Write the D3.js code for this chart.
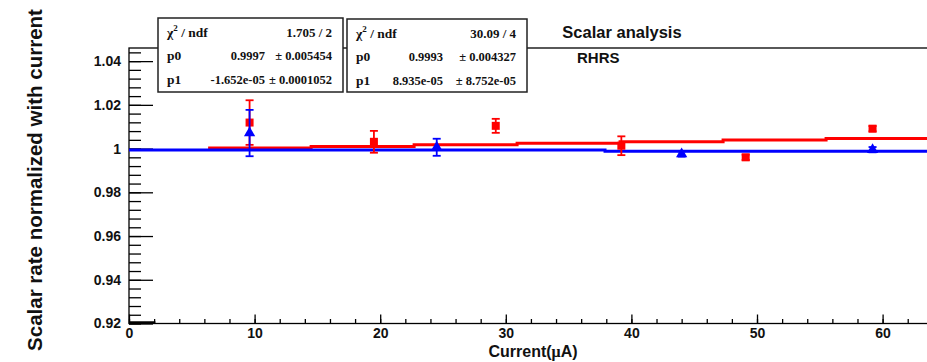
<!DOCTYPE html>
<html>
<head>
<meta charset="utf-8">
<script src="https://cdn.jsdelivr.net/npm/d3@7"></script>
<style>
  body { margin: 0; background: #fff; }
  svg { display: block; }
</style>
</head>
<body>
<div id="chart"></div>
<script>
// 測定点 (赤: 四角)
const red_x   = [9.6, 19.5, 29.2, 39.2, 49.1, 59.2];
const red_y   = [1.0119, 1.0031, 1.0104, 1.0013, 0.9960, 1.0091];
const red_err = [0.0102, 0.0050, 0.0032, 0.0043, 0.0012, 0.0012];
// 測定点 (青: 三角)
const blue_x   = [9.6, 24.5, 44.0, 59.2];
const blue_y   = [1.0071, 1.0006, 0.9975, 0.9995];
const blue_err = [0.0106, 0.0039, 0.0012, 0.0012];
// フィット結果 (p0 + p1*x)
const red_fit  = {p0: 0.9993, p1: 8.935e-05, xmin: 6.3, xmax: 63.7, nbin: 7};
const blue_fit = {p0: 0.9997, p1: -1.652e-05, xmin: 0, xmax: 75.8, nbin: 2};
// 統計ボックスの文字
const stat_red  = [["χ² / ndf", "", "1.705 / 2"], ["p0", "0.9997", "0.005454"], ["p1", "-1.652e-05", "0.0001052"]];
const stat_blue = [["χ² / ndf", "", "30.09 / 4"], ["p0", "0.9993", "0.004327"], ["p1", "8.935e-05", "8.752e-05"]];
// 軸の目盛
const x_major = [0, 10, 20, 30, 40, 50, 60];
const y_major = [0.92, 0.94, 0.96, 0.98, 1, 1.02, 1.04];

const W = 927, H = 362;
const margin = {left: 129, top: 48, bottom: 38.5};
const x_dom = [0, 65], y_dom = [0.92, 1.046];
const px_per_unit = 12.56;

const svg = d3.select("#chart").append("svg")
    .attr("width", W).attr("height", H);

const x = d3.scaleLinear().domain(x_dom)
    .range([margin.left, margin.left + px_per_unit * (x_dom[1] - x_dom[0])]);
const y = d3.scaleLinear().domain(y_dom).range([H - margin.bottom, margin.top]);

const font = "'Liberation Sans', Arial, sans-serif";
const serif = "'Liberation Serif', 'Times New Roman', serif";

// 枠
svg.append("rect")
    .attr("x", x(x_dom[0])).attr("y", y(y_dom[1]))
    .attr("width", x(x_dom[1]) - x(x_dom[0]))
    .attr("height", y(y_dom[0]) - y(y_dom[1]))
    .attr("fill", "none").attr("stroke", "#000").attr("stroke-width", 1.3);

// 目盛 (内向き)
function minor_ticks(lo, hi, step){
    let t = [];
    for (let v = lo; v <= hi + 1e-9; v += step) t.push(+v.toFixed(4));
    return t;
}
function style_axis(g){
    g.selectAll(".domain").remove();
    g.selectAll("line").attr("stroke", "#000").attr("stroke-width", 1.3);
    g.selectAll("text").attr("font-family", font).attr("font-weight", "bold")
        .attr("font-size", 14).attr("fill", "#111");
}
svg.append("g").attr("transform", "translate(" + x(0) + ",0)")
    .call(d3.axisLeft(y).tickValues(minor_ticks(0.92, 1.044, 0.004)).tickSize(-12).tickFormat(""))
    .call(style_axis);
svg.append("g").attr("transform", "translate(" + x(0) + ",0)")
    .call(d3.axisLeft(y).tickValues(y_major).tickSize(-24).tickPadding(8)
        .tickFormat(d => d === 1 ? "1" : d3.format(".2f")(d)))
    .call(style_axis);

svg.append("g").attr("transform", "translate(0," + y(y_dom[0]) + ")")
    .call(d3.axisBottom(x).tickValues(minor_ticks(0, 64, 2)).tickSize(-4.5).tickFormat(""))
    .call(style_axis);
svg.append("g").attr("transform", "translate(0," + y(y_dom[0]) + ")")
    .call(d3.axisBottom(x).tickValues(x_major).tickSize(-9).tickPadding(6).tickFormat(d3.format("d")))
    .call(style_axis)
    .selectAll("text").attr("dy", "0.6em");

// 左下の太線
svg.append("line")
    .attr("x1", x(0)).attr("x2", x(2.1))
    .attr("y1", y(y_dom[0]) - 1).attr("y2", y(y_dom[0]) - 1)
    .attr("stroke", "#000").attr("stroke-width", 2.5);

// 軸タイトル
svg.append("text")
    .attr("transform", "translate(42," + 180 + ") rotate(-90)")
    .attr("text-anchor", "middle")
    .attr("font-family", font).attr("font-weight", "bold").attr("font-size", 20.5)
    .attr("fill", "#111")
    .text("Scalar rate normalized with current");
const xt = svg.append("text")
    .attr("x", 533).attr("y", 357)
    .attr("text-anchor", "middle")
    .attr("font-family", font).attr("font-weight", "bold").attr("font-size", 16)
    .attr("fill", "#111");
xt.append("tspan").text("Current(");
xt.append("tspan").attr("font-family", serif).text("μ");
xt.append("tspan").text("A)");

// フィット線 (階段状)
function fit_steps(f){
    const w = (f.xmax - f.xmin) / f.nbin;
    let pts = [];
    for (let i = 0; i < f.nbin; i++){
        const a = f.xmin + i * w, b = a + w, c = a + w / 2;
        const v = f.p0 + f.p1 * c;
        pts.push([a, v], [b, v]);
    }
    return pts;
}
const line = d3.line().x(d => x(d[0])).y(d => y(d[1]));
svg.append("path").datum(fit_steps(red_fit))
    .attr("d", line).attr("fill", "none").attr("stroke", "#ff0000").attr("stroke-width", 3);
svg.append("path").datum(fit_steps(blue_fit))
    .attr("d", line).attr("fill", "none").attr("stroke", "#0000ff").attr("stroke-width", 3);

// 誤差棒と点
function draw_points(xs, ys, errs, color, shape){
    const g = svg.append("g");
    const data = xs.map((v, i) => ({x: v, y: ys[i], e: errs[i]}));
    const cap = 4;
    data.forEach(d => {
        const cx = x(d.x), y1 = y(d.y + d.e), y2 = y(d.y - d.e);
        g.append("line").attr("x1", cx).attr("x2", cx).attr("y1", y1).attr("y2", y2)
            .attr("stroke", color).attr("stroke-width", 1.8);
        [y1, y2].forEach(yy => g.append("line")
            .attr("x1", cx - cap).attr("x2", cx + cap).attr("y1", yy).attr("y2", yy)
            .attr("stroke", color).attr("stroke-width", 1.8));
    });
    g.selectAll("path.pt").data(data).enter().append("path")
        .attr("class", "pt")
        .attr("transform", d => "translate(" + x(d.x) + "," + y(d.y) + ")")
        .attr("d", d3.symbol().type(shape).size(shape === d3.symbolSquare ? 64 : 55))
        .attr("fill", color);
}
draw_points(red_x, red_y, red_err, "#ff0000", d3.symbolSquare);
draw_points(blue_x, blue_y, blue_err, "#0000ff", d3.symbolTriangle);

// 統計ボックス
function stat_box(rows, bx, by, bw, bh, val_right){
    const g = svg.append("g");
    g.append("rect").attr("x", bx).attr("y", by).attr("width", bw).attr("height", bh)
        .attr("fill", "#fff").attr("stroke", "#222").attr("stroke-width", 1.5);
    const row_y = [by + 19, by + 42, by + 66];
    function txt(tx, ty, anchor, fs){
        return g.append("text").attr("x", tx).attr("y", ty).attr("text-anchor", anchor)
            .attr("font-family", serif).attr("font-weight", "bold").attr("font-size", fs).attr("fill", "#111");
    }
    rows.forEach((r, i) => {
        const t = txt(bx + 9, row_y[i], "start", 13.5);
        if (i === 0){
            t.append("tspan").text("χ");
            t.append("tspan").attr("font-size", 9).attr("dy", -6).text("2");
            t.append("tspan").attr("dy", 6).text(" / ndf");
            txt(bx + bw - 11, row_y[i], "end", 13).text(r[2]);
        } else {
            t.text(r[0]);
            txt(val_right, row_y[i], "end", 12.5).text(r[1]);
            const e = txt(bx + bw - 11, row_y[i], "end", 12.5);
            e.append("tspan").text("±");
            e.append("tspan").attr("dx", 3).text(r[2]);
        }
    });
}
stat_box(stat_red, 158, 18, 185, 74, 265);
stat_box(stat_blue, 347, 19, 180, 73, 443);

// タイトル
svg.append("text").attr("x", 622).attr("y", 38).attr("text-anchor", "middle")
    .attr("font-family", font).attr("font-weight", "bold").attr("font-size", 16.5)
    .attr("fill", "#111").text("Scalar analysis");
svg.append("text").attr("x", 577).attr("y", 63)
    .attr("font-family", font).attr("font-weight", "bold").attr("font-size", 15)
    .attr("fill", "#111").text("RHRS");
</script>
</body>
</html>
